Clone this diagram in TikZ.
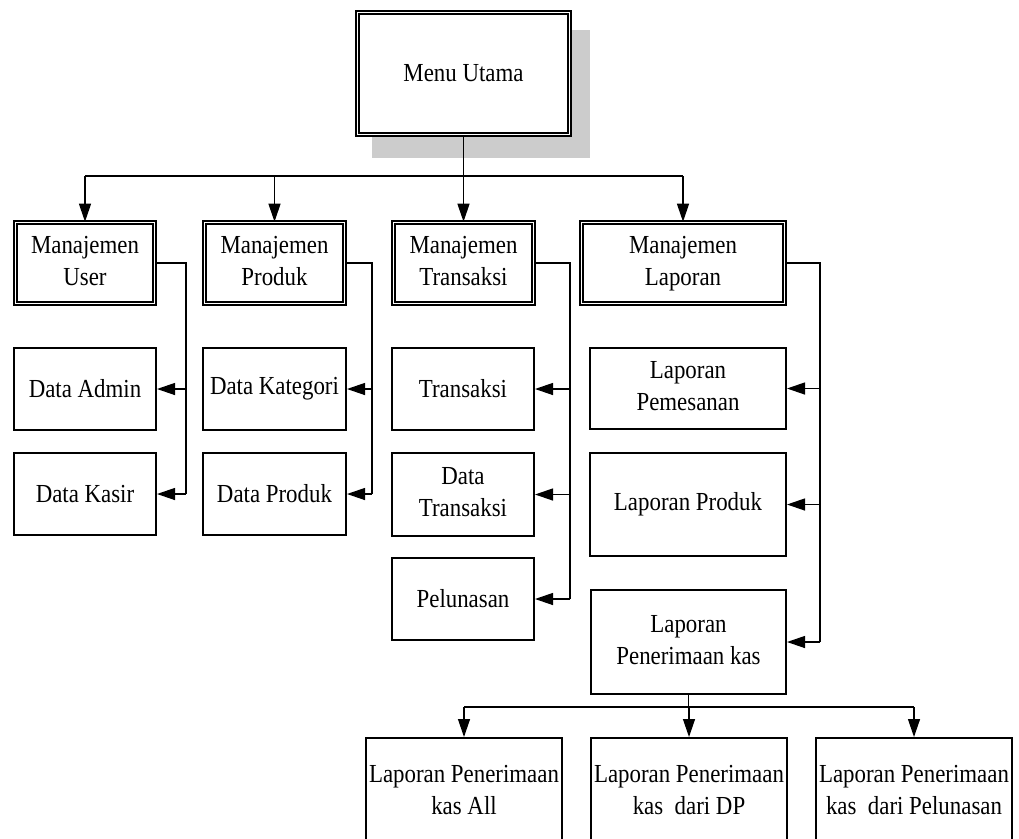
\documentclass[tikz,border=0pt]{standalone}
\usepackage{fontspec}
\setmainfont{Liberation Serif}[FakeStretch=0.88]
\usetikzlibrary{arrows.meta}
\begin{document}
\begin{tikzpicture}[x=1pt,y=-1pt,
  font=\fontsize{26}{32}\selectfont,
  box/.style={draw, line width=2pt, fill=white, align=center, inner sep=0pt},
  dbox/.style={draw, line width=1.8pt, double=white, double distance=1.6pt,
               align=center, inner sep=0pt},
  link/.style={line width=1.3pt},
  arr/.style={link, -{Triangle[length=18pt,width=12pt]}}
]
\useasboundingbox (0,0) rectangle (1019,838);
\clip (0,0) rectangle (1019,838);

% drop shadow of the main menu
\fill[black!20] (372,30) rectangle (590,158);

% main menu
\node[dbox, fill=white, minimum width=211.8pt, minimum height=121.8pt] (menu) at (463.5,73.5) {Menu Utama};

% management modules
\node[dbox, minimum width=138.8pt, minimum height=80.8pt] (mu) at (85,263) {\strut Manajemen\\User\strut};
\node[dbox, minimum width=139.8pt, minimum height=80.8pt] (mp) at (274.5,263) {\strut Manajemen\\Produk\strut};
\node[dbox, minimum width=139.8pt, minimum height=80.8pt] (mt) at (463.5,263) {\strut Manajemen\\Transaksi\strut};
\node[dbox, minimum width=202.8pt, minimum height=80.8pt] (ml) at (683,263) {\strut Manajemen\\Laporan\strut};

% user
\node[box, minimum width=142pt, minimum height=82pt] (da) at (85,389) {Data Admin};
\node[box, minimum width=142pt, minimum height=82pt] (dk) at (85,494) {Data Kasir};
% produk
\node[box, minimum width=143pt, minimum height=82pt] (dkat) at (274.5,389) {Data Kategori};
\node[box, minimum width=143pt, minimum height=82pt] (dp) at (274.5,494) {Data Produk};
% transaksi
\node[box, minimum width=142pt, minimum height=82pt] (tr) at (463,389) {Transaksi};
\node[box, minimum width=142pt, minimum height=83pt] (dtr) at (463,494.5) {\strut Data\\Transaksi\strut};
\node[box, minimum width=142pt, minimum height=82pt] (pel) at (463,599) {Pelunasan};
% laporan
\node[box, minimum width=196pt, minimum height=81pt] (lpm) at (688,388.5) {\strut Laporan\\Pemesanan\strut};
\node[box, minimum width=196pt, minimum height=103pt] (lpr) at (688,504.5) {Laporan Produk};
\node[box, minimum width=195pt, minimum height=104pt] (lpk) at (688.5,642) {\strut Laporan\\Penerimaan kas\strut};

% penerimaan kas reports
\node[box, minimum width=196pt, minimum height=109pt] (b1) at (464,792.5) {\strut Laporan Penerimaan\\kas All\strut};
\node[box, minimum width=196pt, minimum height=109pt] (b2) at (689,792.5) {\strut Laporan Penerimaan\\kas~ dari DP\strut};
\node[box, minimum width=196pt, minimum height=109pt] (b3) at (914,792.5) {\strut Laporan Penerimaan\\kas~ dari Pelunasan\strut};

% junction points
\coordinate (hub) at (463.5,176);
\coordinate (ubus) at (186,0);
\coordinate (pbus) at (372,0);
\coordinate (tbus) at (570,0);
\coordinate (lbus) at (820,0);
\coordinate (bhub) at (688.5,707);

% menu to modules
\draw[link] (menu) -- (hub);
\draw[link] (mu.north |- hub) -- (ml.north |- hub);
\foreach \n in {mu,mp,mt,ml}
  \draw[arr] (\n.north |- hub) -- (\n.north);

% module buses
\draw[link] (mu.east) -| (ubus |- dk.east);
\draw[arr] (ubus |- da.east) -- (da.east);
\draw[arr] (ubus |- dk.east) -- (dk.east);

\draw[link] (mp.east) -| (pbus |- dp.east);
\draw[arr] (pbus |- dkat.east) -- (dkat.east);
\draw[arr] (pbus |- dp.east) -- (dp.east);

\draw[link] (mt.east) -| (tbus |- pel.east);
\draw[arr] (tbus |- tr.east) -- (tr.east);
\draw[arr] (tbus |- dtr.east) -- (dtr.east);
\draw[arr] (tbus |- pel.east) -- (pel.east);

\draw[link] (ml.east) -| (lbus |- lpk.east);
\draw[arr] (lbus |- lpm.east) -- (lpm.east);
\draw[arr] (lbus |- lpr.east) -- (lpr.east);
\draw[arr] (lbus |- lpk.east) -- (lpk.east);

% penerimaan kas breakdown
\draw[link] (lpk) -- (bhub);
\draw[link] (b1.north |- bhub) -- (b3.north |- bhub);
\foreach \n in {b1,b2,b3}
  \draw[arr] (\n.north |- bhub) -- (\n.north);
\end{tikzpicture}
\end{document}
